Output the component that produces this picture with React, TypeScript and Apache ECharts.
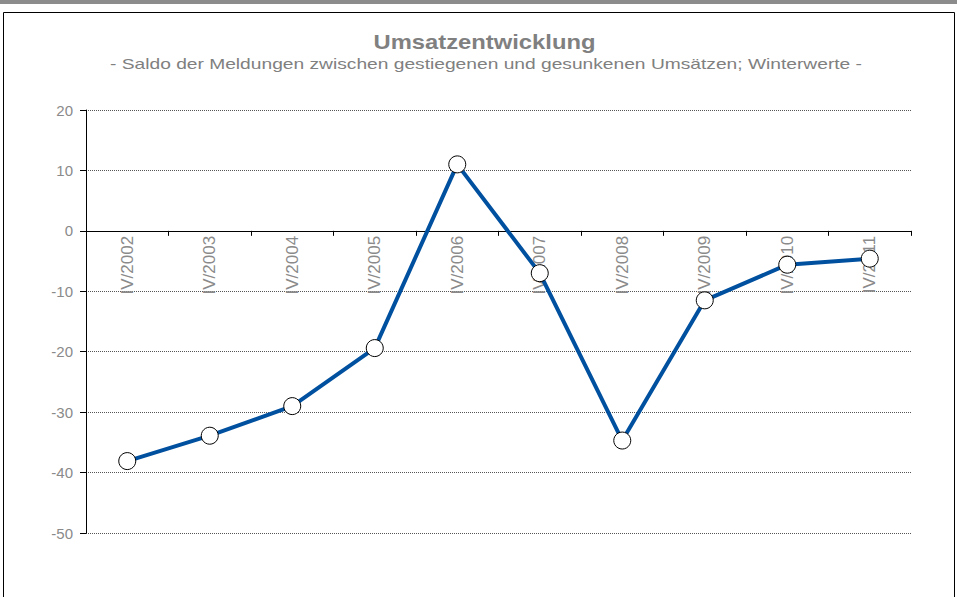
import React, { useEffect, useRef } from "react";
import * as echarts from "echarts";

const categories = ["IV/2002", "IV/2003", "IV/2004", "IV/2005", "IV/2006", "IV/2007", "IV/2008", "IV/2009", "IV/2010", "IV/2011"];
const values = [-38.1, -33.9, -29.0, -19.4, 11.0, -7.0, -34.7, -11.5, -5.6, -4.6];
const yMin = -50;
const yMax = 20;
const yStep = 10;
const titleText = "Umsatzentwicklung";
const subtitleText = "- Saldo der Meldungen zwischen gestiegenen und gesunkenen Umsätzen; Winterwerte -";

export default function App() {
  const ref = useRef<HTMLDivElement>(null);
  useEffect(() => {
    const chart = echarts.init(ref.current!, null, { renderer: "svg" });
    const font = "Arial, 'Liberation Sans', sans-serif";
    const gridTop = 110;
    const gridBottom = 64;
    const plotH = 597 - gridTop - gridBottom;
    const zeroOffset = -(plotH * (0 - yMin)) / (yMax - yMin);
    chart.setOption({
      animation: false,
      backgroundColor: "#ffffff",
      graphic: [
        { type: "rect", shape: { x: 0, y: 0, width: 957, height: 4 }, style: { fill: "#8c8c8c" }, silent: true },
        { type: "rect", shape: { x: 3.5, y: 12.5, width: 951, height: 600 }, style: { fill: "none", stroke: "#000", lineWidth: 1 }, silent: true },
        {
          type: "text", x: 484.5, y: 42, scaleX: 1.22,
          style: { text: titleText, fill: "#808080", font: "bold 19.5px " + font, textAlign: "center", textVerticalAlign: "middle" },
          silent: true,
        },
        {
          type: "text", x: 486, y: 64, scaleX: 1.28,
          style: { text: subtitleText, fill: "#808080", font: "15px " + font, textAlign: "center", textVerticalAlign: "middle" },
          silent: true,
        },
      ],
      grid: { left: 86, right: 46, top: gridTop, bottom: gridBottom },
      xAxis: {
        type: "category",
        data: categories,
        boundaryGap: true,
        position: "bottom",
        offset: zeroOffset,
        axisLine: { onZero: false, lineStyle: { color: "#000", width: 1 } },
        axisTick: { show: true, length: 5, inside: false, lineStyle: { color: "#000" } },
        axisLabel: { rotate: 90, color: "#8a8a8a", fontSize: 17, fontFamily: font, margin: 5 },
        splitLine: { show: false },
      },
      yAxis: {
        type: "value",
        min: yMin,
        max: yMax,
        interval: yStep,
        axisLine: { show: true, lineStyle: { color: "#000", width: 1 } },
        axisTick: { show: true, length: 6, lineStyle: { color: "#000" } },
        axisLabel: { color: "#8a8a8a", fontSize: 15, fontFamily: font, margin: 13 },
        splitLine: { show: true, lineStyle: { color: "#555", type: "dotted", width: 1 } },
      },
      series: [
        {
          type: "line",
          data: values,
          symbol: "circle",
          symbolSize: 17,
          lineStyle: { color: "#0050a0", width: 4 },
          itemStyle: { color: "#ffffff", borderColor: "#000", borderWidth: 1 },
          z: 3,
        },
      ],
    });
    return () => chart.dispose();
  }, []);
  return <div ref={ref} style={{ position: "fixed", left: 0, top: 0, width: 957, height: 597 }} />;
}
